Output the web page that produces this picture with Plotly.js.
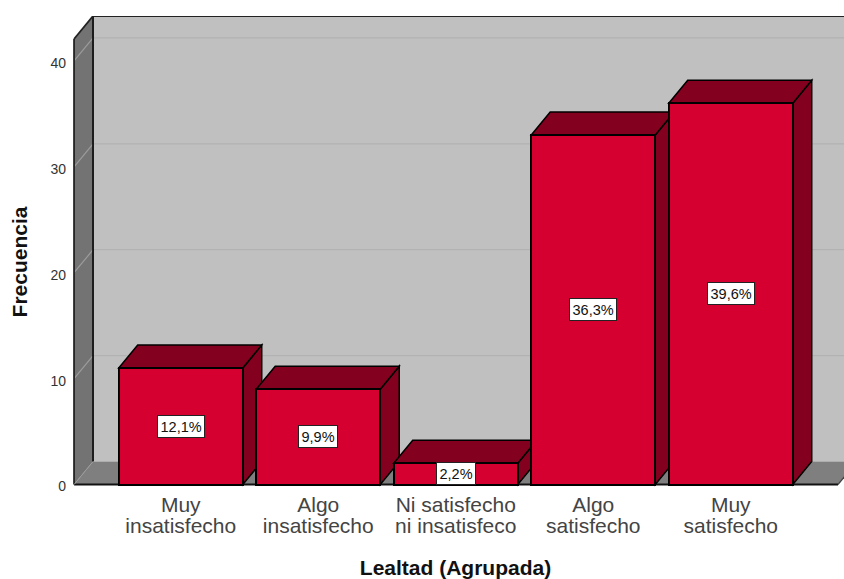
<!DOCTYPE html>
<html>
<head>
<meta charset="utf-8">
<script src="https://cdn.plot.ly/plotly-3.0.1.min.js"></script>
<style>html,body{margin:0;padding:0;background:#fff}#chart{width:844px;height:579px}</style>
</head>
<body>
<div id="chart"></div>
<script>
// Lealtad (Agrupada): frequency per satisfaction level
const categories = ['Muy insatisfecho', 'Algo insatisfecho', 'Ni satisfecho ni insatisfeco', 'Algo satisfecho', 'Muy satisfecho'];
const firstLine = ['Muy', 'Algo', 'Ni satisfecho', 'Algo', 'Muy'];
const secondLine = ['insatisfecho', 'insatisfecho', 'ni insatisfeco', 'satisfecho', 'satisfecho'];
const frequencies = [11, 9, 2, 33, 36];
const percentLabels = ['12,1%', '9,9%', '2,2%', '36,3%', '39,6%'];
const yTicks = [0, 10, 20, 30, 40];

// Pseudo-3D box settings, expressed in axis units
const BAR_WIDTH = 0.902;
const DEPTH_X = 0.138;
const DEPTH_Y = 2.17;
const X_RANGE = [-0.8273, 4.8236];
const Y_RANGE = [-2.219, 44.24];
const WALL_LEFT = -0.776;
const WALL_TOP = 42.07;
const FLOOR_RIGHT = 4.78;

const FRONT = '#d50030';
const DARK = '#83001e';
const WALL = '#737373';
const FLOOR = '#7f7f7f';
const BACK = '#c0c0c0';
const GRID_BACK = '#b2b2b2';
const GRID_WALL = '#9c9c9c';

function poly(points, fill, lineColor, lineWidth) {
  const path = 'M' + points.map(p => p[0] + ',' + p[1]).join('L') + 'Z';
  return {
    type: 'path', path, xref: 'x', yref: 'y', layer: 'below',
    fillcolor: fill, line: {color: lineColor, width: lineWidth}
  };
}
function seg(x0, y0, x1, y1, color, width) {
  return {
    type: 'line', x0, y0, x1, y1, xref: 'x', yref: 'y', layer: 'below',
    line: {color, width}
  };
}

const backLeft = WALL_LEFT + DEPTH_X;
const farRight = X_RANGE[1] + 1;
const shapes = [];

// Back wall, side wall and floor of the chart box
shapes.push(poly([[backLeft, DEPTH_Y], [farRight, DEPTH_Y], [farRight, WALL_TOP + DEPTH_Y], [backLeft, WALL_TOP + DEPTH_Y]], BACK, 'rgba(0,0,0,0)', 0));
shapes.push(poly([[WALL_LEFT, 0], [backLeft, DEPTH_Y], [backLeft, WALL_TOP + DEPTH_Y], [WALL_LEFT, WALL_TOP]], WALL, 'rgba(0,0,0,0)', 0));
shapes.push(poly([[WALL_LEFT, 0], [FLOOR_RIGHT, 0], [FLOOR_RIGHT + DEPTH_X, DEPTH_Y], [backLeft, DEPTH_Y]], FLOOR, 'rgba(0,0,0,0)', 0));

yTicks.filter(v => v > 0).forEach(v => {
  shapes.push(seg(backLeft, v + DEPTH_Y, farRight, v + DEPTH_Y, GRID_BACK, 1.2));
  shapes.push(seg(WALL_LEFT, v, backLeft, v + DEPTH_Y, GRID_WALL, 1.2));
});

// Box edges
shapes.push(seg(WALL_LEFT, 0, WALL_LEFT, WALL_TOP, '#222', 1.8));
shapes.push(seg(backLeft, DEPTH_Y, backLeft, WALL_TOP + DEPTH_Y, '#111', 1.8));
shapes.push(seg(WALL_LEFT, WALL_TOP, backLeft, WALL_TOP + DEPTH_Y, '#222', 1.8));
shapes.push(seg(backLeft, WALL_TOP + DEPTH_Y, farRight, WALL_TOP + DEPTH_Y, '#222', 2));
shapes.push(seg(WALL_LEFT, 0, FLOOR_RIGHT, 0, '#111', 2));
shapes.push(seg(FLOOR_RIGHT, 0, FLOOR_RIGHT + DEPTH_X, DEPTH_Y, '#444', 1.2));
shapes.push(seg(WALL_LEFT, 0, backLeft, DEPTH_Y, '#9c9c9c', 1));

// Top and right faces of each bar, painted left to right behind the front faces
frequencies.forEach((value, i) => {
  const left = i - BAR_WIDTH / 2;
  const right = i + BAR_WIDTH / 2;
  shapes.push(poly([[right, 0], [right + DEPTH_X, DEPTH_Y], [right + DEPTH_X, value + DEPTH_Y], [right, value]], DARK, '#000', 1.5));
  shapes.push(poly([[left, value], [left + DEPTH_X, value + DEPTH_Y], [right + DEPTH_X, value + DEPTH_Y], [right, value]], DARK, '#000', 1.5));
});

const axisFont = {family: '"Liberation Sans", Arial, sans-serif', size: 21, color: '#444'};
const titleFont = {family: '"Liberation Sans", Arial, sans-serif', size: 21, color: '#111', weight: 700};
const X_POSITION = 23.5 / 492;

const traces = [
  {
    type: 'bar',
    x: categories,
    y: frequencies,
    width: BAR_WIDTH,
    marker: {color: FRONT, line: {color: '#000', width: 2}},
    hoverinfo: 'x+y',
    showlegend: false
  },
  {
    type: 'scatter',
    mode: 'none',
    x: categories.map((_, i) => i),
    y: frequencies,
    xaxis: 'x2',
    hoverinfo: 'skip',
    showlegend: false
  }
];

const annotations = frequencies.map((value, i) => ({
  x: i,
  y: value / 2,
  xref: 'x',
  yref: 'y',
  text: percentLabels[i],
  showarrow: false,
  font: {family: '"Liberation Sans", Arial, sans-serif', size: 14.5, color: '#111'},
  bgcolor: '#fff',
  bordercolor: '#222',
  borderwidth: 1,
  borderpad: 2.5
}));

const layout = {
  width: 844,
  height: 579,
  margin: {l: 67, r: 0, t: 16, b: 71, pad: 0},
  paper_bgcolor: '#fff',
  plot_bgcolor: '#fff',
  showlegend: false,
  bargap: 0,
  shapes,
  annotations,
  xaxis: {
    type: 'category',
    categoryorder: 'array',
    categoryarray: categories,
    range: X_RANGE,
    anchor: 'free',
    position: X_POSITION,
    tickmode: 'array',
    tickvals: categories,
    ticktext: firstLine,
    ticks: '',
    ticklabelstandoff: 5,
    tickfont: axisFont,
    showgrid: false,
    zeroline: false,
    showline: false,
    title: {
      text: 'Lealtad (Agrupada)',
      standoff: 51,
      font: titleFont
    }
  },
  xaxis2: {
    type: 'linear',
    overlaying: 'x',
    side: 'bottom',
    range: X_RANGE,
    anchor: 'free',
    position: X_POSITION,
    tickmode: 'array',
    tickvals: categories.map((_, i) => i),
    ticktext: secondLine,
    ticks: '',
    ticklabelstandoff: 26,
    tickfont: axisFont,
    showgrid: false,
    zeroline: false,
    showline: false
  },
  yaxis: {
    range: Y_RANGE,
    tickmode: 'array',
    tickvals: yTicks,
    ticks: '',
    ticklabelshift: 2,
    tickfont: {family: '"Liberation Sans", Arial, sans-serif', size: 14, color: '#333'},
    showgrid: false,
    zeroline: false,
    showline: false,
    title: {
      text: 'Frecuencia',
      standoff: 17,
      font: titleFont
    }
  }
};

Plotly.newPlot('chart', traces, layout, {displayModeBar: false, responsive: false});
</script>
</body>
</html>
